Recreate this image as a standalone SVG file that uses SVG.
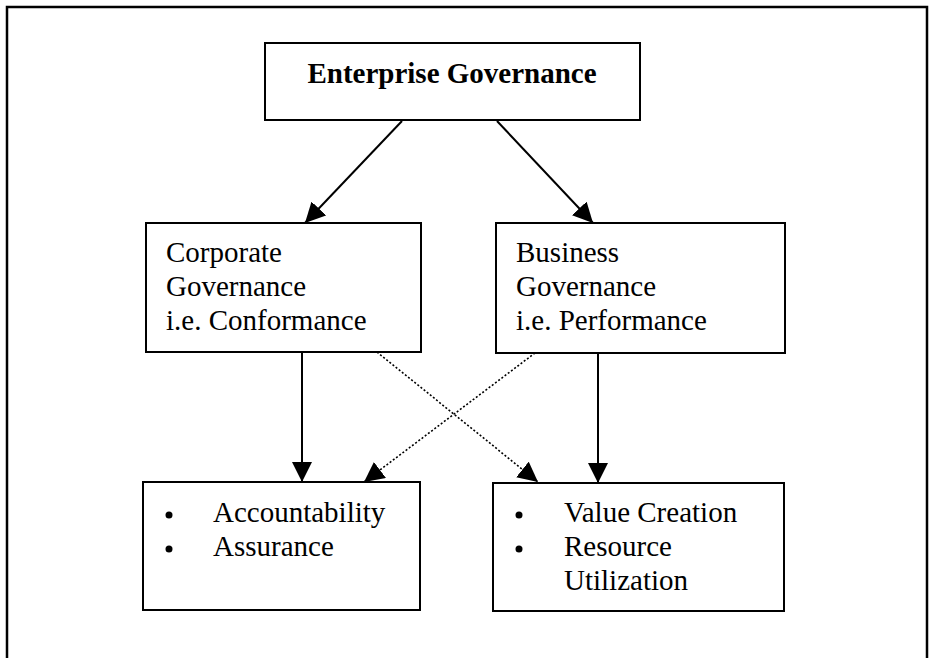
<svg xmlns="http://www.w3.org/2000/svg" width="929" height="658" viewBox="0 0 929 658">
  <style>
    .box { fill: #ffffff; stroke: #000000; stroke-width: 2; }
    .frame { fill: none; stroke: #000000; stroke-width: 2.5; }
    .txt { font-family: "Liberation Serif", "Times New Roman", serif; font-size: 29px; fill: #000000; }
    .title { font-family: "Liberation Serif", "Times New Roman", serif; font-size: 29px; font-weight: bold; fill: #000000; }
    .solid { stroke: #000000; stroke-width: 2; fill: none; }
    .dotted { stroke: #000000; stroke-width: 1.6; stroke-dasharray: 2 2; fill: none; }
  </style>
  <defs>
    <marker id="head" markerUnits="userSpaceOnUse" markerWidth="22" markerHeight="22" refX="20" refY="10" orient="auto">
      <path d="M0,0 L20,10 L0,20 Z" fill="#000000"/>
    </marker>
  </defs>

  <rect width="929" height="658" fill="#ffffff"/>

  <!-- outer frame, open at the bottom -->
  <path class="frame" d="M7,658 V7 H927 V658"/>

  <g id="connectors">
    <line class="solid" x1="402" y1="121" x2="305" y2="223" marker-end="url(#head)"/>
    <line class="solid" x1="497" y1="121" x2="593" y2="223" marker-end="url(#head)"/>
    <line class="solid" x1="302" y1="352" x2="302" y2="482" marker-end="url(#head)"/>
    <line class="solid" x1="598" y1="353" x2="598" y2="483" marker-end="url(#head)"/>
    <line class="dotted" x1="377" y1="352" x2="538" y2="482" marker-end="url(#head)"/>
    <line class="dotted" x1="535" y1="353" x2="364" y2="482" marker-end="url(#head)"/>
  </g>

  <g id="enterprise-governance">
    <rect class="box" x="265" y="43" width="375" height="77"/>
    <text class="title" x="452" y="83" text-anchor="middle">Enterprise Governance</text>
  </g>

  <g id="corporate-governance">
    <rect class="box" x="146" y="223" width="275" height="129"/>
    <text class="txt" x="166" y="262">Corporate</text>
    <text class="txt" x="166" y="296">Governance</text>
    <text class="txt" x="166" y="330">i.e. Conformance</text>
  </g>

  <g id="business-governance">
    <rect class="box" x="496" y="223" width="289" height="130"/>
    <text class="txt" x="516" y="262">Business</text>
    <text class="txt" x="516" y="296">Governance</text>
    <text class="txt" x="516" y="330">i.e. Performance</text>
  </g>

  <g id="conformance-outcomes">
    <rect class="box" x="143" y="482" width="277" height="128"/>
    <circle cx="169" cy="515" r="3.5" fill="#000000"/>
    <circle cx="169" cy="549" r="3.5" fill="#000000"/>
    <text class="txt" x="213" y="522">Accountability</text>
    <text class="txt" x="213" y="556">Assurance</text>
  </g>

  <g id="performance-outcomes">
    <rect class="box" x="493" y="483" width="291" height="128"/>
    <circle cx="519" cy="515" r="3.5" fill="#000000"/>
    <circle cx="519" cy="549" r="3.5" fill="#000000"/>
    <text class="txt" x="564" y="522">Value Creation</text>
    <text class="txt" x="564" y="556">Resource</text>
    <text class="txt" x="564" y="590">Utilization</text>
  </g>
</svg>
